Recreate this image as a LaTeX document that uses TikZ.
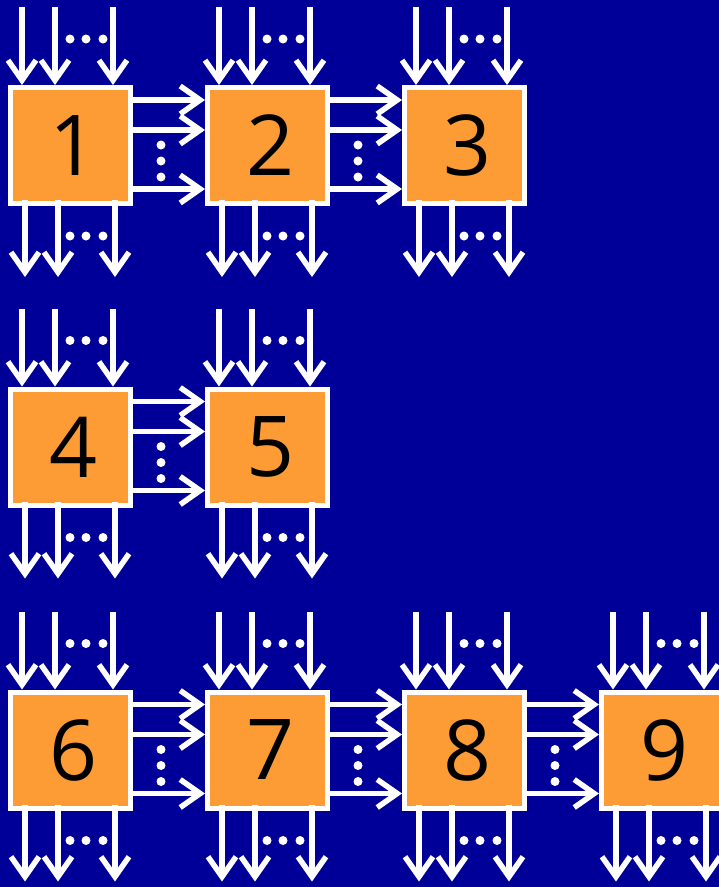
\documentclass[tikz,border=0pt]{standalone}
\usepackage{fontspec}
\setmainfont{Open Sans}
\usetikzlibrary{arrows.meta}
\definecolor{deepblue}{RGB}{0,0,153}
\definecolor{tileorange}{RGB}{253,155,52}
\tikzset{
  tile/.style={draw=white, line width=5pt, fill=tileorange,
    minimum width=120pt, minimum height=116pt, inner sep=0pt, outer sep=0pt,
    font=\fontsize{84}{84}\selectfont},
  wire/.style={white, line width=5.5pt, -{Straight Barb[length=20pt,width=28pt]}},
  dot/.style={white},
}
\begin{document}
\begin{tikzpicture}[x=1pt,y=1pt]
  \useasboundingbox (0,0) rectangle (719,-887);
  \fill[deepblue] (0,0) rectangle (719,-887);
  \clip (0,0) rectangle (719,-887);
  % the tiles
  \foreach \n/\x/\y in {1/70.5/-145.5, 2/267.5/-145.5, 3/464.5/-145.5,
                        4/70.5/-447,   5/267.5/-447,
                        6/70.5/-750,   7/267.5/-750,   8/464.5/-750, 9/661.5/-750}
    \node[tile] (b\n) at (\x,\y) {\hspace*{6pt}\n};
  % inputs and outputs of every tile
  \foreach \n in {1,...,9} {
    \foreach \dx in {-48.5,-15.5,42.5}
      \draw[wire] ([shift={(\dx pt,80.5pt)}]b\n.north) -- ([shift={(\dx pt,2.5pt)}]b\n.north);
    \foreach \dx in {-45.5,-12.5,44.5}
      \draw[wire] ([shift={(\dx pt,3.5pt)}]b\n.south) -- ([shift={(\dx pt,-73.5pt)}]b\n.south);
    \foreach \dx in {-0.5,15.5,32.5} {
      \fill[dot] ([shift={(\dx pt,106.5pt)}]b\n.center) circle (4.5pt);
      \fill[dot] ([shift={(\dx pt,-90.5pt)}]b\n.center) circle (4.5pt);
    }
  }
  % links between neighbours
  \foreach \a/\b in {1/2, 2/3, 4/5, 6/7, 7/8, 8/9} {
    \foreach \dy in {45.5,15.5,-43.5}
      \draw[wire] ([yshift=\dy pt]b\a.east) -- ([shift={(-2.5pt,\dy pt)}]b\b.west);
    \foreach \dy in {0.5,-15.5,-31.5}
      \fill[dot] ([shift={(90.5pt,\dy pt)}]b\a.center) circle (4.5pt);
  }
\end{tikzpicture}
\end{document}
